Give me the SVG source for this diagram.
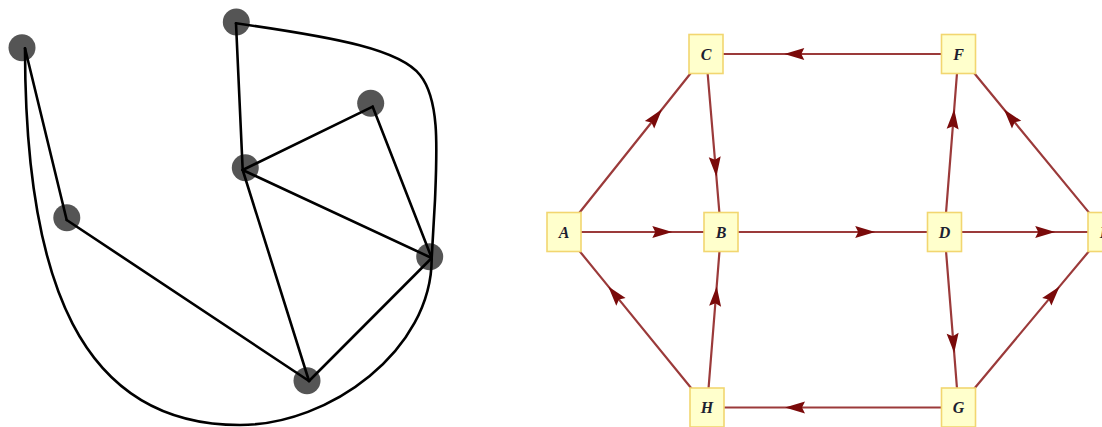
<svg xmlns="http://www.w3.org/2000/svg" width="1102" height="427" viewBox="0 0 1102 427">
<defs>
<style>
.dot{fill:#555555}
.ln{fill:none;stroke:#000;stroke-width:2.6;stroke-linejoin:round;stroke-linecap:round}
.de{fill:none;stroke:#9b3a3a;stroke-width:2.2;marker-mid:url(#ah)}
.box{fill:#ffffcc;stroke:#f2d670;stroke-width:1.6}
.lbl{font-family:"Liberation Serif",serif;font-style:italic;font-weight:bold;font-size:16px;fill:#1c2030;text-anchor:middle}
</style>
<marker id="ah" markerUnits="userSpaceOnUse" markerWidth="24" markerHeight="16" viewBox="-21 -8 24 16" refX="0" refY="0" orient="auto">
<path d="M0,0 L-20,-6 L-17,0 L-20,6 Z" fill="#7a0a0a"/>
</marker>
</defs>
<rect width="1102" height="427" fill="#ffffff"/>

<g id="left-nodes">
<g id="n1"><circle class="dot" cx="22" cy="47.7" r="13.5"/></g>
<g id="n2"><circle class="dot" cx="236.3" cy="22" r="13.5"/></g>
<g id="n3"><circle class="dot" cx="370.7" cy="103.3" r="13.5"/></g>
<g id="n4"><circle class="dot" cx="245.3" cy="167.7" r="13.5"/></g>
<g id="n5"><circle class="dot" cx="66.8" cy="217.7" r="13.5"/></g>
<g id="n6"><circle class="dot" cx="429.7" cy="256.7" r="13.5"/></g>
<g id="n7"><circle class="dot" cx="307" cy="380.7" r="13.5"/></g>
</g>

<g id="left-edges">
<path class="ln" d="M25,48.3 L66.7,220"/>
<path class="ln" d="M66.7,220 L309,381"/>
<path class="ln" d="M236,23.3 L242.7,170"/>
<path class="ln" d="M242.7,170 L372.7,106.7"/>
<path class="ln" d="M372.7,106.7 L431.7,258"/>
<path class="ln" d="M242.7,170 L431.7,258"/>
<path class="ln" d="M242.7,170 L309,381"/>
<path class="ln" d="M309,381 L431.7,258"/>
<path class="ln" d="M236,23.3 C340,38 400,50 420,75 C440,100 437,150 435,200 L431.7,258"/>
<path class="ln" d="M25,48.3 C25,280 80,425 240,425 C330,425 432,350 431.7,258"/>
</g>

<g id="right-edges">
<path class="de" d="M564,232 L672.3,232 L721,232"/>
<path class="de" d="M564,232 L662,109.2 L706,54"/>
<path class="de" d="M706,54 L716.4,176.8 L721,232"/>
<path class="de" d="M958.5,54 L784.3,54 L706,54"/>
<path class="de" d="M721,232 L875.2,232 L944.5,232"/>
<path class="de" d="M944.5,232 L954.2,109.2 L958.5,54"/>
<path class="de" d="M1105,232 L1003.9,109.2 L958.5,54"/>
<path class="de" d="M944.5,232 L1055.2,232 L1105,232"/>
<path class="de" d="M944.5,232 L954.2,353.1 L958.5,407.5"/>
<path class="de" d="M958.5,407.5 L1059.6,286.4 L1105,232"/>
<path class="de" d="M958.5,407.5 L785,407.5 L707,407.5"/>
<path class="de" d="M707,407.5 L716.7,286.4 L721,232"/>
<path class="de" d="M707,407.5 L608.3,286.4 L564,232"/>
</g>

<g id="A"><rect class="box" x="547" y="212.5" width="34" height="39"/><text class="lbl" x="564" y="237.5">A</text></g>
<g id="B"><rect class="box" x="704" y="212.5" width="34" height="39"/><text class="lbl" x="721" y="237.5">B</text></g>
<g id="C"><rect class="box" x="689" y="34.5" width="34" height="39"/><text class="lbl" x="706" y="59.5">C</text></g>
<g id="D"><rect class="box" x="927.5" y="212.5" width="34" height="39"/><text class="lbl" x="944.5" y="237.5">D</text></g>
<g id="E"><rect class="box" x="1088" y="212.5" width="34" height="39"/><text class="lbl" x="1105" y="237.5">E</text></g>
<g id="F"><rect class="box" x="941.5" y="34.5" width="34" height="39"/><text class="lbl" x="958.5" y="59.5">F</text></g>
<g id="G"><rect class="box" x="941.5" y="388" width="34" height="39"/><text class="lbl" x="958.5" y="413">G</text></g>
<g id="H"><rect class="box" x="690" y="388" width="34" height="39"/><text class="lbl" x="707" y="413">H</text></g>
</svg>
